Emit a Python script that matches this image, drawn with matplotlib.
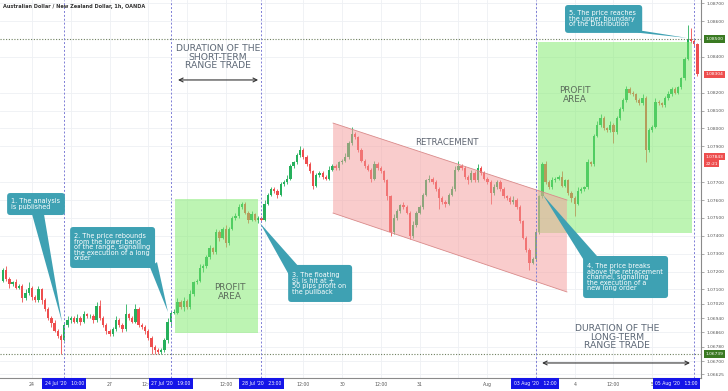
import numpy as np
import matplotlib.pyplot as plt
from matplotlib.patches import FancyBboxPatch, Polygon
from matplotlib.transforms import blended_transform_factory

# AUD/NZD hourly candles, bar index 0 = 24 Jul 2020 00:00 (weekends skipped)
bar_start = -9
first_open = 1.0715
closes = [
    1.0721, 1.0716, 1.0713, 1.0714, 1.0711, 1.0712, 1.0705, 1.0708, 1.0711, 1.0706,
    1.0704, 1.0710, 1.0704, 1.0699, 1.0694, 1.0691, 1.0687, 1.0684, 1.0682, 1.0690,
    1.0693, 1.0694, 1.0692, 1.0694, 1.0692, 1.0696, 1.0695, 1.0695, 1.0693, 1.0701,
    1.0694, 1.0690, 1.0687, 1.0685, 1.0688, 1.0693, 1.0690, 1.0688, 1.0696, 1.0694,
    1.0692, 1.0699, 1.0690, 1.0689, 1.0687, 1.0683, 1.0678, 1.0676, 1.0675, 1.0676,
    1.0682, 1.0692, 1.0697, 1.0697, 1.0703, 1.0700, 1.07035, 1.0700, 1.07075, 1.0714,
    1.0715, 1.0722, 1.0723, 1.0728, 1.0733, 1.0731, 1.0742, 1.0739, 1.0744, 1.0736,
    1.0744, 1.0750, 1.0751, 1.0756, 1.0758, 1.0753, 1.0749, 1.0752, 1.0749, 1.0750,
    1.0749, 1.0758, 1.0763, 1.0766, 1.0765, 1.0763, 1.0769, 1.0770, 1.0772, 1.0779,
    1.0781, 1.0785, 1.0788, 1.0784, 1.0780, 1.0776, 1.0768, 1.0774, 1.0775, 1.0773,
    1.0772, 1.0777, 1.0779, 1.0778, 1.0781, 1.0782, 1.0784, 1.0792, 1.0797, 1.0795,
    1.0788, 1.0782, 1.0779, 1.0777, 1.0772, 1.0780, 1.0778, 1.0776, 1.0771, 1.0762,
    1.0742, 1.0750, 1.0754, 1.0757, 1.0756, 1.0753, 1.0740, 1.0746, 1.0753, 1.0756,
    1.0763, 1.0771, 1.0772, 1.0770, 1.0766, 1.0761, 1.0759, 1.0758, 1.0763, 1.0766,
    1.0777, 1.0779, 1.0778, 1.0773, 1.0771, 1.0775, 1.0771, 1.0778, 1.0775, 1.0772,
    1.0770, 1.0764, 1.0767, 1.0770, 1.0766, 1.0762, 1.0761, 1.0759, 1.0760, 1.0756,
    1.0748, 1.0739, 1.0732, 1.0725, 1.0727, 1.0742, 1.0762, 1.0780, 1.0770, 1.0767,
    1.0771, 1.0772, 1.0773, 1.0768, 1.0771, 1.0764, 1.0761, 1.0758, 1.0765, 1.0766,
    1.0767, 1.0781, 1.0780, 1.0796, 1.0802, 1.0806, 1.0800, 1.0799, 1.0802, 1.0798,
    1.0806, 1.0811, 1.0816, 1.0822, 1.0820, 1.0819, 1.0816, 1.0814, 1.0817, 1.0788,
    1.0799, 1.0801, 1.0815, 1.0814, 1.0813, 1.0817, 1.0819, 1.0822, 1.0820, 1.0823,
    1.0828, 1.0839, 1.0850, 1.0849, 1.0847, 1.08304,
]
# wick lengths beyond the body, in pips
up_wick = [
    1, 2, 1, 1, 2, 1, 1, 2, 3, 1,
    1, 2, 1, 1, 1, 1, 2, 1, 1, 2,
    2, 1, 1, 2, 1, 2, 1, 1, 1, 2,
    3, 1, 1, 1, 1, 2, 1, 1, 6, 1,
    1, 3, 1, 1, 1, 1, 1, 1, 1, 1,
    1, 2, 1, 2, 2, 1, 2, 1, 2, 1,
    1, 2, 1, 1, 2, 1, 2, 1, 1, 2,
    1, 1, 2, 2, 1, 1, 1, 2, 1, 1,
    1, 2, 1, 1, 1, 1, 1, 1, 2, 1,
    1, 1, 2, 1, 1, 1, 1, 1, 1, 1,
    1, 2, 1, 1, 1, 1, 2, 1, 4, 1,
    1, 1, 1, 1, 1, 2, 1, 1, 1, 1,
    1, 2, 1, 1, 2, 1, 1, 2, 1, 1,
    1, 1, 2, 1, 1, 1, 1, 1, 1, 2,
    2, 3, 1, 1, 1, 2, 1, 2, 1, 1,
    1, 1, 2, 1, 1, 1, 1, 1, 2, 1,
    1, 1, 1, 1, 1, 1, 1, 1, 2, 1,
    2, 1, 1, 3, 1, 1, 1, 1, 2, 1,
    1, 2, 1, 1, 2, 2, 1, 1, 2, 1,
    1, 1, 1, 2, 1, 1, 1, 1, 2, 1,
    1, 1, 2, 1, 1, 1, 2, 1, 1, 1,
    1, 1, 8, 6, 1, 1,
]
down_wick = [
    1, 1, 2, 1, 1, 1, 2, 1, 1, 2,
    1, 1, 2, 1, 1, 2, 1, 1, 8, 1,
    1, 2, 1, 1, 2, 1, 1, 1, 2, 1,
    1, 1, 2, 1, 1, 1, 1, 2, 1, 1,
    1, 1, 1, 1, 2, 1, 4, 2, 1, 1,
    1, 2, 3, 1, 1, 1, 2, 1, 1, 1,
    1, 1, 2, 1, 1, 1, 1, 2, 1, 2,
    1, 1, 1, 1, 1, 1, 2, 1, 1, 2,
    1, 1, 1, 1, 1, 2, 1, 1, 1, 1,
    1, 1, 1, 1, 1, 1, 2, 1, 1, 1,
    1, 1, 1, 1, 1, 1, 1, 1, 1, 1,
    1, 1, 1, 1, 2, 1, 1, 1, 1, 2,
    2, 1, 1, 1, 1, 1, 2, 1, 1, 1,
    1, 1, 1, 1, 1, 6, 1, 2, 1, 1,
    1, 1, 1, 1, 2, 1, 1, 1, 1, 1,
    1, 6, 1, 1, 1, 1, 1, 1, 1, 1,
    1, 1, 1, 4, 1, 1, 1, 1, 1, 1,
    1, 1, 1, 1, 1, 1, 2, 7, 1, 1,
    1, 1, 1, 1, 1, 1, 1, 1, 1, 6,
    1, 1, 1, 1, 1, 1, 1, 1, 1, 7,
    1, 1, 1, 1, 1, 1, 1, 1, 1, 1,
    1, 1, 1, 1, 1, 1,
]

x_ticks = [0, 24, 36, 60, 84, 96, 108, 120, 141, 168, 180, 192]
x_tick_labels = ['24', '27', '12:00', '12:00', '12:00', '30', '12:00',
                 '31', 'Aug', '4', '12:00', '5']
x_grid = [0, 12, 24, 36, 48, 60, 72, 84, 96, 108, 120, 132, 141, 156, 168, 180, 192]
y_ticks = [1.087, 1.086, 1.084, 1.082, 1.081, 1.080, 1.079, 1.077, 1.076, 1.075,
           1.074, 1.073, 1.072, 1.071, 1.0702, 1.0694, 1.0686, 1.0678, 1.0670, 1.06625]

event_bars = [10, 43, 71, 156, 205]
event_label_x = [10, 43, 71, 155.7, 199.5]
event_labels = ["24 Jul '20   10:00", "27 Jul '20   19:00", "28 Jul '20   23:00",
                "03 Aug '20   12:00", "05 Aug '20   13:00"]

range_top = 1.08500
range_bottom = 1.06739
last_price = 1.08304
marker_price = 1.07843

green = '#26b05c'
red = '#ee4e4e'
teal = '#3ea1b3'

fig = plt.figure(figsize=(7.28, 3.91), dpi=100)
ax = fig.add_axes([0, 13 / 391, 701 / 728, 378 / 391])
ax.set_xlim(-9.9, 207.1)
ax.set_ylim(1.06605, 1.08718)

# candles
c = np.array(closes)
o = np.concatenate([[first_open], c[:-1]])
idx = np.arange(bar_start, bar_start + len(c))
hi = np.maximum(o, c) + np.array(up_wick) * 1e-4
lo = np.minimum(o, c) - np.array(down_wick) * 1e-4
cols = np.where(c >= o, green, red)
ax.vlines(idx, lo, hi, colors=cols, lw=0.6, zorder=2)
body = np.maximum(np.abs(c - o), 0.00004)
ax.bar(idx, body, bottom=np.minimum(o, c), width=0.72, color=cols, lw=0, zorder=3)

# grid
for xt in x_grid:
    ax.axvline(xt, color='#eef0f4', lw=0.6, zorder=0)
for yt in y_ticks:
    ax.axhline(yt, color='#eef0f4', lw=0.6, zorder=0)

# overlays
green_fill = '#7deb69'
ax.fill_between([44.3, 70.0], 1.06857, 1.07604, color=green_fill, alpha=0.5, lw=0, zorder=4)
ax.fill_between([156.7, 204.3], 1.07416, 1.08483, color=green_fill, alpha=0.5, lw=0, zorder=4)
chan = [(93.2, 1.08030), (165.6, 1.07600), (165.6, 1.07086), (93.2, 1.07527)]
ax.add_patch(Polygon(chan, closed=True, fc='#f59b9b', ec='none', alpha=0.5, zorder=4))
ax.plot([93.2, 165.6], [1.08030, 1.07600], color='#d98a8a', lw=0.6, zorder=4)
ax.plot([93.2, 165.6], [1.07527, 1.07086], color='#d98a8a', lw=0.6, zorder=4)

# range boundaries and event lines
for p in (range_top, range_bottom):
    ax.axhline(p, color='#6f8060', lw=0.8, ls=(0, (1, 1.5)), zorder=5)
for b in event_bars:
    ax.axvline(b, color='#7d7dd6', lw=0.7, ls=(0, (2, 2)), zorder=5)

# titles and headings
ax.text(0.004, 0.982, 'Australian Dollar / New Zealand Dollar, 1h, OANDA', transform=ax.transAxes,
        fontsize=3.6, weight='bold', color='#333333', va='center', ha='left', zorder=6)
head = dict(fontsize=6.7, color='#5d6876', ha='center', va='center', linespacing=0.95, zorder=6)
ax.text(57.6, 1.08399, 'DURATION OF THE\nSHORT-TERM\nRANGE TRADE', **head)
ax.text(181.1, 1.06834, 'DURATION OF THE\nLONG-TERM\nRANGE TRADE', **head)
ax.text(128.5, 1.07919, 'RETRACEMENT', fontsize=6.1, color='#5d6470', ha='center', va='center', zorder=6)
pa = dict(fontsize=6.4, color='#5b6b5b', ha='center', va='center', linespacing=0.95, zorder=6)
ax.text(61.3, 1.07086, 'PROFIT\nAREA', **pa)
ax.text(168.1, 1.08187, 'PROFIT\nAREA', **pa)
arr = dict(arrowstyle='<->', color='#333333', lw=0.8, mutation_scale=7, shrinkA=0, shrinkB=0)
ax.annotate('', xy=(45.2, 1.08271), xytext=(70.0, 1.08271), arrowprops=arr, zorder=6)
ax.annotate('', xy=(157.9, 1.06689), xytext=(203.7, 1.06689), arrowprops=arr, zorder=6)

# callouts: box (x0, y0, w, h), pointer triangle, text
callouts = [
    ((-7.7, 1.07516, 17.9, 0.00123), [(0.0, 1.07522), (3.7, 1.07522), (9.3, 1.06918)],
     '1. The analysis\nis published'),
    ((11.8, 1.07220, 26.3, 0.00229), [(36.5, 1.07225), (38.7, 1.07253), (42.1, 1.06974)],
     '2. The price rebounds\nfrom the lower band\nof the range, signalling\nthe execution of a long\norder'),
    ((79.3, 1.07030, 19.8, 0.00207), [(79.9, 1.07170), (82.4, 1.07231), (70.6, 1.07471)],
     '3. The floating\nSL is hit at +\n50 pips profit on\nthe pullback'),
    ((170.6, 1.07052, 26.3, 0.00235), [(171.2, 1.07253), (174.9, 1.07287), (158.2, 1.07628)],
     '4. The price breaks\nabove the retracement\nchannel, signalling\nthe execution of a\nnew long order'),
    ((165.0, 1.08534, 23.9, 0.00156), [(183.6, 1.08561), (188.2, 1.08534), (202.8, 1.08506)],
     '5. The price reaches\nthe upper boundary\nof the Distribution'),
]
aspect = 0.0000559 * 3.23
for (x0, y0, w, h), tri, txt in callouts:
    ax.add_patch(FancyBboxPatch((x0, y0), w, h, boxstyle='round,pad=0,rounding_size=1.0',
                                mutation_aspect=aspect, fc=teal, ec='none', zorder=7))
    ax.add_patch(Polygon(tri, closed=True, fc=teal, ec='none', zorder=7))
    ax.text(x0 + 1.2, y0 + h / 2, txt, fontsize=4.7, color='white', ha='left', va='center',
            linespacing=0.9, zorder=8)

# axes
for s in ('top', 'left'):
    ax.spines[s].set_visible(False)
for s in ('right', 'bottom'):
    ax.spines[s].set_color('#8a8a8a')
    ax.spines[s].set_linewidth(0.8)
ax.yaxis.tick_right()
ax.set_yticks(y_ticks)
ax.set_yticklabels([f'{v:.5f}' for v in y_ticks])
ax.tick_params(axis='y', length=2.5, width=0.5, color='#8a8a8a', labelsize=3.2,
               labelcolor='#555555', pad=1.5)
ax.set_xticks(x_ticks)
ax.set_xticklabels(x_tick_labels)
ax.tick_params(axis='x', length=0, labelsize=3.3, labelcolor='#555555', pad=2.7)

ty = blended_transform_factory(ax.transAxes, ax.transData)
for p, txt, fc in [(range_top, '1.08500', '#3a7a22'), (last_price, '1.08304', red),
                   (marker_price, '1.07843', red), (marker_price - 0.00040, '22:21', red),
                   (range_bottom, '1.06739', '#3a7a22')]:
    ax.text(1.006, p, txt, transform=ty, fontsize=3.2, color='white', ha='left', va='center',
            bbox=dict(boxstyle='square,pad=0.35', fc=fc, ec='none'), clip_on=False, zorder=9)

tx = blended_transform_factory(ax.transData, ax.transAxes)
for xl, txt in zip(event_label_x, event_labels):
    ax.text(xl, -0.0146, txt, transform=tx, fontsize=3.3, color='white', ha='center', va='center',
            bbox=dict(boxstyle='square,pad=0.55', fc='#1515e8', ec='none'), clip_on=False, zorder=9)

fig.savefig('out.png', dpi=100, facecolor='white')
